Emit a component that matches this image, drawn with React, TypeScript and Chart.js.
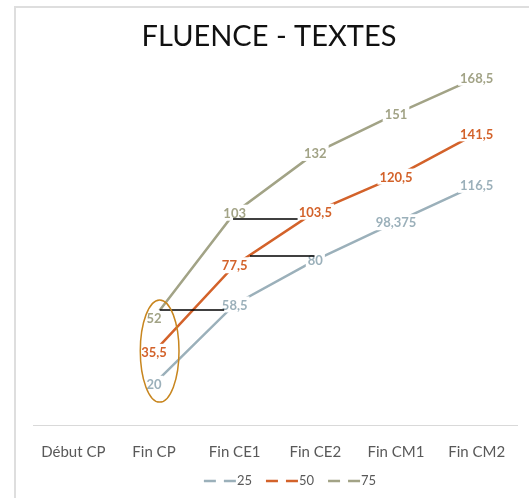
import React, { useEffect, useRef } from 'react';
import { Chart, registerables } from 'chart.js';

Chart.register(...registerables);

// ---- data ----
const categories = ['Début CP', 'Fin CP', 'Fin CE1', 'Fin CE2', 'Fin CM1', 'Fin CM2'];
const p25 = [null, 20, 58.5, 80, 98.375, 116.5];
const p50 = [null, 35.5, 77.5, 103.5, 120.5, 141.5];
const p75 = [null, 52, 103, 132, 151, 168.5];
const seriesLabels = ['25', '50', '75'];
const seriesColors = ['#9BB0BA', '#D3622A', '#A2A386'];
const chartTitle = 'FLUENCE - TEXTES';
const yMin = 0;
const yMax = 180;

// hand-drawn horizontal comparison lines (category index from/to, value)
const refFrom = [1.07, 2.19, 1.98];
const refTo = [1.87, 2.99, 2.78];
const refValue = [55.8, 82, 100];

// highlighted ellipse around the "Fin CP" labels (category index, value, radii)
const ellipseCenter = [1.07, 35.9];
const ellipseRadius = [0.24, 24.8];

const FONT = 'Lato, "Open Sans", sans-serif';

const fmt = (v: number) => String(v).replace('.', ',');

const valueLabels = {
  id: 'valueLabels',
  afterDatasetsDraw(chart: any) {
    const ctx = chart.ctx;
    ctx.save();
    ctx.font = `bold 13px ${FONT}`;
    ctx.textAlign = 'center';
    ctx.textBaseline = 'middle';
    chart.data.datasets.forEach((ds: any, i: number) => {
      const meta = chart.getDatasetMeta(i);
      meta.data.forEach((pt: any, j: number) => {
        const v = ds.data[j];
        if (v == null) return;
        const txt = fmt(v);
        const w = ctx.measureText(txt).width;
        ctx.fillStyle = '#ffffff';
        ctx.fillRect(pt.x - w / 2 - 2, pt.y - 8, w + 4, 16);
        ctx.fillStyle = ds.borderColor;
        ctx.fillText(txt, pt.x, pt.y + 1);
      });
    });
    ctx.restore();
  },
};

const annotations = {
  id: 'annotations',
  afterDatasetsDraw(chart: any) {
    const ctx = chart.ctx;
    const xs = chart.scales.x;
    const ys = chart.scales.y;
    ctx.save();
    ctx.strokeStyle = '#000000';
    ctx.lineWidth = 1.5;
    refValue.forEach((v, i) => {
      const y = ys.getPixelForValue(v);
      ctx.beginPath();
      ctx.moveTo(xs.getPixelForValue(refFrom[i]), y);
      ctx.lineTo(xs.getPixelForValue(refTo[i]), y);
      ctx.stroke();
    });
    const cx = xs.getPixelForValue(ellipseCenter[0]);
    const cy = ys.getPixelForValue(ellipseCenter[1]);
    const rx = xs.getPixelForValue(ellipseCenter[0] + ellipseRadius[0]) - cx;
    const ry = cy - ys.getPixelForValue(ellipseCenter[1] + ellipseRadius[1]);
    ctx.strokeStyle = '#C8861F';
    ctx.lineWidth = 1.5;
    ctx.beginPath();
    ctx.ellipse(cx, cy, rx, ry, 0, 0, Math.PI * 2);
    ctx.stroke();
    ctx.restore();
  },
};

const legendCenterX = 290;
const legendY = 481;

const customLegend = {
  id: 'customLegend',
  afterDraw(chart: any) {
    const ctx = chart.ctx;
    ctx.save();
    ctx.font = `13px ${FONT}`;
    ctx.textBaseline = 'middle';
    ctx.textAlign = 'left';
    const sample = 32;
    const gap = 14;
    const items = chart.data.datasets.map((ds: any) => ({
      text: ds.label,
      color: ds.borderColor,
      w: sample + 1 + ctx.measureText(ds.label).width,
    }));
    const total = items.reduce((a: number, it: any) => a + it.w, 0) + gap * (items.length - 1);
    let x = legendCenterX - total / 2;
    items.forEach((it: any) => {
      ctx.strokeStyle = it.color;
      ctx.lineWidth = 2.5;
      ctx.setLineDash([12, 8]);
      ctx.beginPath();
      ctx.moveTo(x, legendY);
      ctx.lineTo(x + sample, legendY);
      ctx.stroke();
      ctx.setLineDash([]);
      ctx.fillStyle = '#595959';
      ctx.fillText(it.text, x + sample + 1, legendY);
      x += it.w + gap;
    });
    ctx.restore();
  },
};

export default function App() {
  const ref = useRef<HTMLCanvasElement | null>(null);
  useEffect(() => {
    if (!ref.current) return;
    const series = [p25, p50, p75];
    const chart = new Chart(ref.current, {
      type: 'line',
      data: {
        labels: categories,
        datasets: series.map((d, i) => ({
          label: seriesLabels[i],
          data: d,
          borderColor: seriesColors[i],
          backgroundColor: seriesColors[i],
          borderWidth: 2.5,
          pointRadius: 0,
          tension: 0,
          fill: false,
        })),
      },
      options: {
        animation: false,
        responsive: false,
        devicePixelRatio: 1,
        layout: { padding: { left: 21, right: 12, top: 0, bottom: 0 } },
        plugins: {
          legend: { display: false },
          tooltip: { enabled: false },
          title: {
            display: true,
            text: chartTitle,
            color: '#111111',
            font: { family: FONT, size: 29, weight: 'normal' },
            padding: { top: 19, bottom: 0.2 },
          },
        },
        scales: {
          x: {
            offset: true,
            grid: { display: false },
            border: { display: true, color: '#d9d9d9', width: 1 },
            ticks: {
              color: '#595959',
              font: { family: FONT, size: 15 },
              padding: 10,
              autoSkip: false,
              maxRotation: 0,
            },
            afterFit: (s: any) => {
              s.height = 73;
            },
          },
          y: {
            min: yMin,
            max: yMax,
            grid: { display: false },
            border: { display: false },
            ticks: { display: false },
            afterFit: (s: any) => {
              s.width = 12;
            },
          },
        },
      },
      plugins: [valueLabels, annotations, customLegend],
    });
    return () => chart.destroy();
  }, []);

  return (
    <div style={{ position: 'fixed', left: 0, top: 0, width: 529, height: 498, background: '#fff' }}>
      <div
        style={{
          position: 'absolute',
          left: 14,
          top: 6,
          right: 0,
          bottom: 0,
          borderLeft: '2px solid #dedede',
          borderTop: '2px solid #dedede',
        }}
      />
      <canvas ref={ref} width={529} height={498} style={{ position: 'absolute', left: 0, top: 0, display: 'block' }} />
    </div>
  );
}
